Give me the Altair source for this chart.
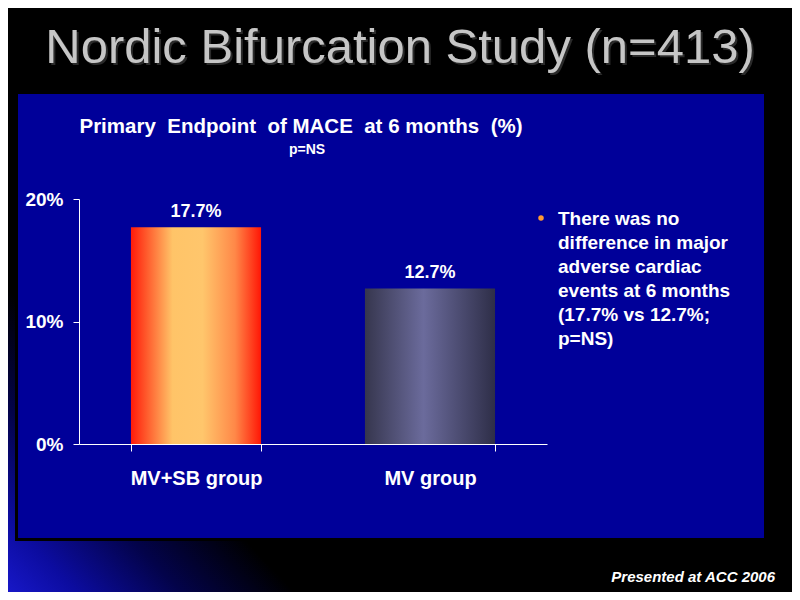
import altair as alt
import pandas as pd

# ---------------- data ----------------
groups = ["MV+SB group", "MV group"]
mace_pct = [17.7, 12.7]
y_ticks = [0, 10, 20]

slide_title = "Nordic Bifurcation Study (n=413)"
NB = "\u00a0"
chart_title = f"Primary{NB}{NB}Endpoint{NB}{NB}of MACE{NB}{NB}at 6 months{NB}{NB}(%)"
chart_subtitle = "p=NS"
bullet_lines = [
    "There was no",
    "difference in major",
    "adverse cardiac",
    "events at 6 months",
    "(17.7% vs 12.7%;",
    "p=NS)",
]
footer_text = "Presented at ACC 2006"

# ---------------- layout ----------------
FONT = "Liberation Sans"
W, H = 468, 245
PAD = {"left": 71, "top": 191, "right": 245, "bottom": 148}

bars_df = pd.DataFrame({"group": groups, "value": mace_pct})
one = pd.DataFrame({"k": [0]})


def rect(x, x2, y, y2, fill):
    return alt.Chart(one).mark_rect(fill=fill, strokeWidth=0).encode(
        x=alt.value(x), x2=alt.value(x2), y=alt.value(y), y2=alt.value(y2)
    )


def label(text, x, y, size, color="white", align="center", weight="bold", style="normal", line_height=None, dx=0, dy=0):
    kw = dict(font=FONT, fontSize=size, color=color, align=align, fontWeight=weight,
              fontStyle=style, baseline="alphabetic", dx=dx, dy=dy)
    if line_height is not None:
        kw["lineHeight"] = line_height
    return alt.Chart(one).mark_text(**kw).encode(
        x=alt.value(x), y=alt.value(y), text=alt.value(text)
    )


# blue glow in the lower-left corner of the slide
bg_glow = rect(-79, 271, 31, 401, alt.LinearGradient(
    gradient="linear", x1=0, y1=1, x2=0.6, y2=0.4,
    stops=[
        alt.GradientStop(offset=0, color="#1a1ad0"),
        alt.GradientStop(offset=0.2, color="#0c0ca0"),
        alt.GradientStop(offset=0.45, color="#03034a"),
        alt.GradientStop(offset=0.72, color="#000000"),
        alt.GradientStop(offset=1, color="#000000"),
    ]))

panel_shadow = rect(-64, 682, -102, 342, "#000000")
panel = rect(-61, 685, -105, 339, "#000099")

title_shadow = label(slide_title, 321, -136, 49, color="#2a2a2a", weight="normal", dx=2, dy=2)
title_main = label(slide_title, 321, -136, 49, color="#c6c6c6", weight="normal")

ctitle = label(chart_title, 222, -66, 20.5)
csub = label(chart_subtitle, 228, -45, 14)

x_enc = alt.X(
    "group:N", sort=groups,
    scale=alt.Scale(paddingInner=0.444, paddingOuter=0.222),
    axis=alt.Axis(title=None, labelAngle=0, labelFont=FONT, labelFontSize=20,
                  labelFontWeight="bold", labelColor="white", domainColor="white",
                  tickColor="white", tickSize=7, tickBand="extent", labelPadding=17,
                  zindex=1),
)
y_enc = alt.Y(
    "value:Q", scale=alt.Scale(domain=[0, 20], nice=False),
    axis=alt.Axis(title=None, values=y_ticks, labelExpr="datum.value + '%'",
                  grid=False, labelFont=FONT, labelFontSize=19, labelFontWeight="bold",
                  labelColor="white", domainColor="white", tickColor="white",
                  tickSize=6, labelPadding=10, zindex=1),
)

grad_warm = alt.LinearGradient(
    gradient="linear", x1=0, x2=1, y1=0, y2=0,
    stops=[
        alt.GradientStop(offset=0, color="#ff1a0a"),
        alt.GradientStop(offset=0.12, color="#ff5a2c"),
        alt.GradientStop(offset=0.32, color="#ffc468"),
        alt.GradientStop(offset=0.55, color="#ffc66c"),
        alt.GradientStop(offset=0.8, color="#ff8848"),
        alt.GradientStop(offset=1, color="#ff1606"),
    ])
grad_cool = alt.LinearGradient(
    gradient="linear", x1=0, x2=1, y1=0, y2=0,
    stops=[
        alt.GradientStop(offset=0, color="#36364e"),
        alt.GradientStop(offset=0.45, color="#6b6b9c"),
        alt.GradientStop(offset=1, color="#2e2e48"),
    ])

base = alt.Chart(bars_df).encode(x=x_enc, y=y_enc)
bar1 = base.transform_filter(alt.datum.group == groups[0]).mark_bar(fill=grad_warm, strokeWidth=0)
bar2 = base.transform_filter(alt.datum.group == groups[1]).mark_bar(fill=grad_cool, strokeWidth=0)
vals = base.transform_calculate(lbl="format(datum.value, '.1f') + '%'").mark_text(
    font=FONT, fontSize=18, fontWeight="bold", color="white", dy=-10, baseline="alphabetic"
).encode(text="lbl:N")

dot = alt.Chart(one).mark_point(filled=True, size=30, color="#ff9933", shape="circle", opacity=1).encode(
    x=alt.value(462), y=alt.value(19))
bullets = label(bullet_lines, 479, 26, 19, align="left", line_height=24)
footer = label(footer_text, 696, 383, 15, align="right", style="italic")

chart = alt.layer(
    bg_glow, panel_shadow, panel, title_shadow, title_main, ctitle, csub,
    bar1, bar2, vals, dot, bullets, footer,
).properties(
    width=W, height=H, padding=PAD, autosize=alt.AutoSizeParams(type="none")
).configure(background="black").configure_view(strokeWidth=0)

chart.save("out.html", embed_options={"renderer": "svg", "actions": False})
